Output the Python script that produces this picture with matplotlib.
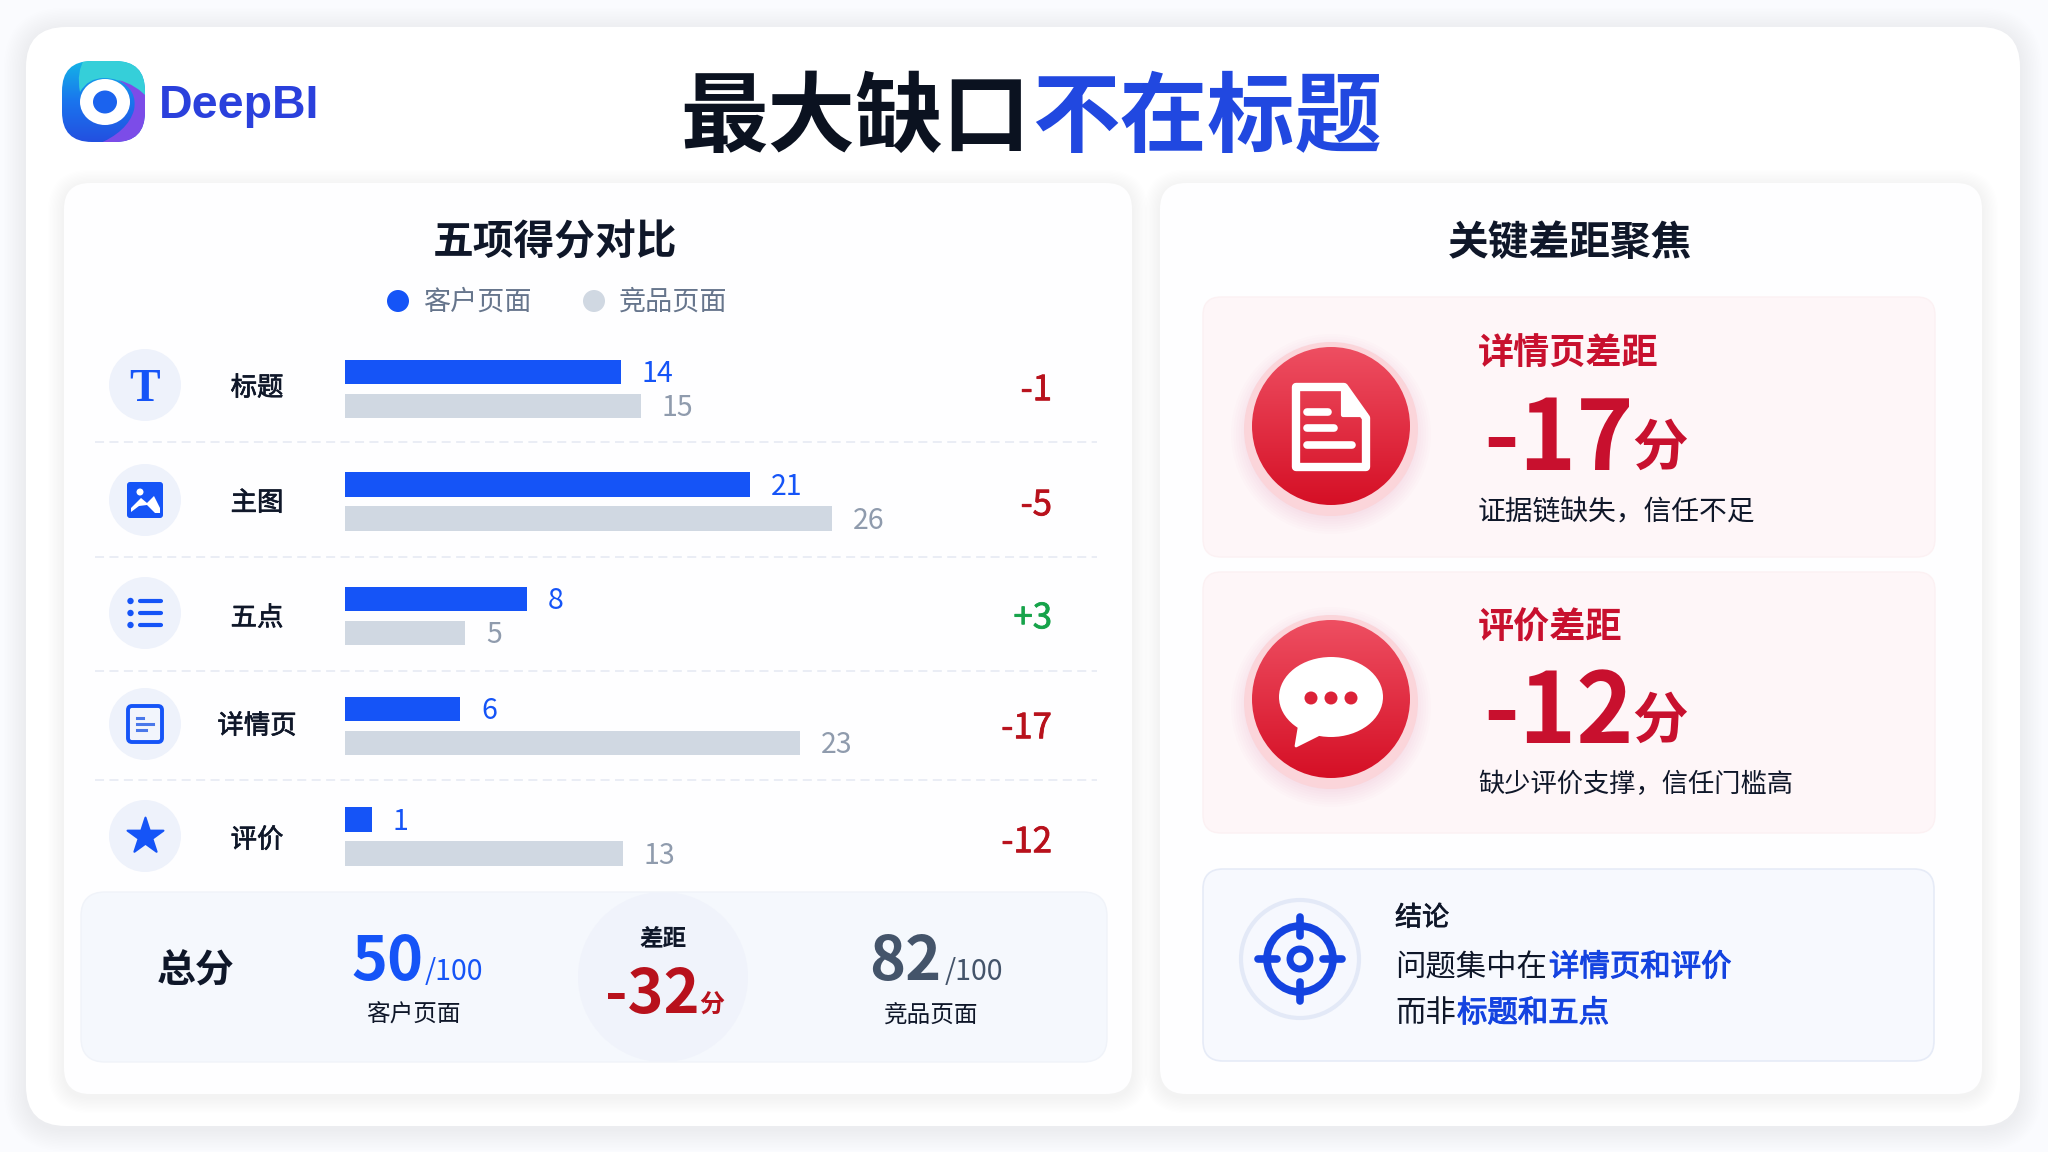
import numpy as np
import matplotlib
matplotlib.use('Agg')
import matplotlib.pyplot as plt
import matplotlib.patheffects as pe
from matplotlib.patches import FancyBboxPatch, Circle, Polygon, Ellipse, PathPatch
from matplotlib.path import Path
from matplotlib.colors import LinearSegmentedColormap

plt.rcParams['font.family'] = ['Noto Sans CJK SC', 'DejaVu Sans']

# data
categories = ['标题', '主图', '五点', '详情页', '评价']
client_scores = [14, 21, 8, 6, 1]
rival_scores = [15, 26, 5, 23, 13]
# bar lengths as drawn in the picture, in score units
client_bars = [14.0, 20.55, 9.25, 5.85, 1.35]
rival_bars = [15.0, 24.7, 6.1, 23.1, 14.1]
gap_labels = ['-1', '-5', '+3', '-17', '-12']
series_names = ['客户页面', '竞品页面']
client_total = '50'
rival_total = '82'
total_gap = '-32'

BLUE = '#1554f7'
GREY = '#d0d8e2'
INK = '#0f1729'
RED = '#b8111c'
GREEN = '#16a34a'
CARD_RED = '#c8102e'

fig = plt.figure(figsize=(20.48, 11.52), dpi=100, facecolor='#fafbfe')
ax = fig.add_axes([0, 0, 1, 1])
ax.set_xlim(0, 2048)
ax.set_ylim(1152, 0)
ax.axis('off')


def rbox(x0, y0, x1, y1, r, fc, ec='none', lw=0, z=1, alpha=None):
    p = FancyBboxPatch((x0, y0), x1 - x0, y1 - y0, boxstyle=f'round,pad=0,rounding_size={r}',
                       fc=fc, ec=ec, lw=lw, zorder=z, alpha=alpha)
    ax.add_patch(p)
    return p


def shadow(x0, y0, x1, y1, r, color='#c9d4ec', steps=12, spread=16, dy=3, a=0.012, z=1):
    for i in range(steps):
        d = spread * (1 - i / steps)
        rbox(x0 - d, y0 - d + dy, x1 + d, y1 + d + dy, r + d, color, z=z, alpha=a)


def gradient(x0, y0, x1, y1, colors, clip, z=3):
    cmap = LinearSegmentedColormap.from_list('g', colors)
    g = np.linspace(0, 1, 200)[:, None]
    im = ax.imshow(g, extent=(x0, x1, y1, y0), cmap=cmap, aspect='auto', zorder=z, origin='upper')
    im.set_clip_path(clip)
    return im


def txt(x, y, s, size, color=INK, weight='regular', ha='center', va='center', z=6, thick=0, **kw):
    # CJK glyphs sit high with va=center
    if va == 'center':
        y = y + size * 0.11
    t = ax.text(x, y, s, fontsize=size, color=color, fontweight=weight, ha=ha, va=va, zorder=z, **kw)
    if thick:
        t.set_path_effects([pe.withStroke(linewidth=thick, foreground=color)])
    return t


# cards
shadow(26, 27, 2020, 1126, 40, steps=14, spread=22)
rbox(26, 27, 2020, 1126, 40, '#ffffff', z=1.2)
for x0, x1 in [(64, 1132), (1160, 1982)]:
    shadow(x0, 183, x1, 1094, 26, z=1.3)
    rbox(x0, 183, x1, 1094, 26, '#fefeff', z=1.4)

# logo
logo = rbox(62, 61, 145, 142, 30, 'none', z=2)
gradient(62, 61, 145, 142, ['#14b4e6', '#1a74ee', '#2350e0'], logo)
Q = Path.CURVE3
teal = PathPatch(Path([(85, 58), (150, 58), (150, 112), (132, 78), (104, 78), (88, 78), (80, 92), (76, 72), (85, 58)],
                      [Path.MOVETO, Path.LINETO, Path.LINETO, Q, Q, Q, Q, Q, Q]), fc='#35cfd9', ec='none', zorder=3.2)
ax.add_patch(teal)
teal.set_clip_path(logo)
violet = PathPatch(Path([(118, 80), (138, 90), (134, 110), (128, 132), (96, 145), (150, 145), (150, 100), (136, 84), (118, 80)],
                        [Path.MOVETO, Q, Q, Q, Q, Path.LINETO, Path.LINETO, Q, Q]), fc='#7c4ce8', ec='none', zorder=3.2)
ax.add_patch(violet)
violet.set_clip_path(logo)
ax.add_patch(Ellipse((105, 102), 50, 46, fc='white', zorder=4))
ax.add_patch(Ellipse((105, 102), 24, 23, fc='#1b63ee', zorder=5))
txt(159, 102, 'DeepBI', 33.5, '#2a40dc', 'bold', ha='left', family='Liberation Sans')

# title
txt(680, 113, '最大缺口', 63, '#0b1220', 'black', ha='left')
txt(1032, 113, '不在标题', 63, '#2148e0', 'black', ha='left')

# panel heads
txt(555, 240, '五项得分对比', 29.3, INK, 'bold')
txt(1570, 240, '关键差距聚焦', 29.3, INK, 'bold')
ax.add_patch(Circle((398, 301), 11, fc=BLUE, zorder=5))
ax.add_patch(Circle((594, 301), 11, fc=GREY, zorder=5))
txt(423, 300, series_names[0], 19.5, '#66758c', ha='left')
txt(619, 300, series_names[1], 19.5, '#66758c', ha='left')

# rows
row_y = [389, 501.5, 616, 726, 836.5]
icon_y = [385, 500, 613, 724, 836]
label_y = [386, 501, 616, 724, 838]
gap_y = [388, 503, 616, 726, 840]
for y in [442, 557, 671, 780]:
    ax.plot([95, 1097], [y, y], color='#e8ecf4', lw=1.3, ls=(0, (5, 3)), zorder=3)
for y in icon_y:
    ax.add_patch(Circle((145, y), 36, fc='#eef2fb', zorder=3))
for ly, name in zip(label_y, categories):
    txt(257, ly, name, 19, INK, thick=0.5)
for y, s in zip(gap_y, gap_labels):
    txt(1052, y, s, 25, GREEN if s.startswith('+') else RED, ha='right', thick=0.6)

# icons
txt(145, icon_y[0] + 1, 'T', 33, BLUE, 'bold', family='Liberation Serif')
yi = icon_y[1]
rbox(127, yi - 18, 163, yi + 18, 3, BLUE, z=5)
ax.add_patch(Circle((140, yi - 8), 3.5, fc='white', zorder=6))
ax.add_patch(Polygon([(131, yi + 8), (141, yi - 2), (147, yi + 3), (154, yi - 4), (160, yi + 8), (160, yi + 13), (155, yi + 13), (147, yi + 5), (139, yi + 6), (131, yi + 12)],
                     fc='white', zorder=6))
yi = icon_y[2]
for dy in [-12, 0, 12]:
    ax.add_patch(Circle((130.5, yi + dy), 3.2, fc=BLUE, zorder=5))
    ax.plot([140, 161], [yi + dy, yi + dy], color=BLUE, lw=3, solid_capstyle='round', zorder=5)
yi = icon_y[3]
rbox(128, yi - 18, 162, yi + 18, 4, '#f2f5fc', ec=BLUE, lw=2.8, z=5)
for dy, x1 in [(-6, 143), (0, 153), (6, 146)]:
    ax.plot([137, x1], [yi + dy, yi + dy], color='#4a78ea', lw=2.2, zorder=6)
ax.scatter([145], [icon_y[4]], marker='*', s=740, color=BLUE, linewidths=1.5, edgecolors=BLUE, zorder=5)

# bars
bar_ax = fig.add_axes([345 / 2048, 1 - 880 / 1152, 755 / 2048, 540 / 1152])
bar_ax.set_xlim(0, 755 / 19.7)
bar_ax.set_ylim(880, 340)
bar_ax.axis('off')
bar_ax.patch.set_alpha(0)
bar_ax.set_zorder(5)
client_y = np.array(row_y) - 17
rival_y = np.array(row_y) + 17
bar_ax.barh(client_y, client_bars, height=24.5, color=BLUE)
bar_ax.barh(rival_y, rival_bars, height=24.5, color=GREY)
for b, v, y in zip(client_bars, client_scores, client_y):
    bar_ax.annotate(str(v), (b, y), xytext=(15, -1.5), textcoords='offset points', fontsize=20.5, color=BLUE, va='center')
for b, v, y in zip(rival_bars, rival_scores, rival_y):
    bar_ax.annotate(str(v), (b, y), xytext=(15, -1.5), textcoords='offset points', fontsize=20.5, color='#8f9bad', va='center')

# total strip
rbox(81, 892, 1107, 1062, 24, '#f5f8fd', ec='#f0f3f9', lw=1, z=2)
ax.add_patch(Circle((663, 977), 85, fc='#f0f3fb', zorder=2.5))
txt(196, 968, '总分', 28, INK, 'bold')
txt(351, 980, client_total, 44, BLUE, 'bold', ha='left', va='baseline')
txt(425, 980, '/100', 20.5, BLUE, ha='left', va='baseline')
txt(413, 1013, series_names[0], 17, INK)
txt(869, 980, rival_total, 44, '#44546a', 'bold', ha='left', va='baseline')
txt(945, 980, '/100', 20.5, '#44546a', ha='left', va='baseline')
txt(931, 1013, series_names[1], 17, INK)
txt(663, 937, '差距', 17, INK, 'bold')
txt(605, 1013, total_gap, 44, RED, 'bold', ha='left', va='baseline')
txt(699, 1013, '分', 18, RED, 'bold', ha='left', va='baseline')

# right red cards
cards = [
    (297, 557, 426, '详情页差距', 351, '-17', 470, '证据链缺失\uff0c信任不足', 510, 20),
    (572, 833, 699, '评价差距', 625, '-12', 743, '缺少评价支撑\uff0c信任门槛高', 782, 18.9),
]
for y0, y1, cy, head, head_y, big, base_y, sub, sub_y, sub_size in cards:
    rbox(1203, y0, 1935, y1, 18, '#fef6f8', ec='#fcf1f3', lw=1, z=2)
    for i in range(8):
        ax.add_patch(Circle((1331, cy + 8), 100 - i * 2.5, fc='#e8394e', alpha=0.012, zorder=2.5))
    ax.add_patch(Circle((1331, cy + 3), 87, fc='#fbd5da', ec='none', zorder=2.8))
    disc = Circle((1331, cy), 79, fc='none', ec='none', zorder=3)
    ax.add_patch(disc)
    gradient(1250, cy - 80, 1412, cy + 80, ['#ee4f62', '#d50f25'], disc)
    txt(1478, head_y, head, 26, CARD_RED, 'bold', ha='left')
    txt(1483, base_y, big, 70, CARD_RED, 'bold', ha='left', va='baseline')
    txt(1632, base_y - 5, '分', 40, CARD_RED, 'bold', ha='left', va='baseline')
    txt(1478, sub_y, sub, sub_size, INK, ha='left')

# doc icon
ax.add_patch(PathPatch(Path([(1296, 387), (1344, 387), (1366, 418), (1366, 467), (1296, 467), (1296, 387)],
                            [Path.MOVETO, Path.LINETO, Path.LINETO, Path.LINETO, Path.LINETO, Path.CLOSEPOLY]),
                       fc='none', ec='white', lw=6, joinstyle='round', zorder=5))
ax.add_patch(Polygon([(1343, 387), (1343, 415), (1366, 415)], fc='white', ec='white', lw=3, joinstyle='round', zorder=5))
for y, x1 in [(412, 1328), (428, 1334), (445, 1352)]:
    ax.plot([1307, x1], [y, y], color='white', lw=5.5, solid_capstyle='round', zorder=5)

# speech icon
ax.add_patch(Ellipse((1331, 697), 104, 80, fc='white', zorder=5))
ax.add_patch(Polygon([(1300, 722), (1318, 735), (1296, 746)], fc='white', ec='white', lw=2, joinstyle='round', zorder=5))
for x in [1311, 1331, 1351]:
    ax.add_patch(Circle((x, 698), 6.5, fc='#dc2238', zorder=6))

# conclusion
rbox(1203, 869, 1934, 1061, 20, '#f7f9fe', ec='#e6ebf7', lw=1.2, z=2)
ax.add_patch(Circle((1300, 959), 59, fc='#f6f8fe', ec='#e3e9f7', lw=3, zorder=3))
TARGET = '#1443e0'
ax.add_patch(Circle((1300, 959), 33, fc='none', ec=TARGET, lw=5.5, zorder=4))
ax.add_patch(Circle((1300, 959), 10, fc='none', ec=TARGET, lw=5, zorder=4))
for x0, y0, x1, y1 in [(1300, 917, 1300, 936), (1300, 982, 1300, 1001), (1258, 959, 1277, 959), (1323, 959, 1342, 959)]:
    ax.plot([x0, x1], [y0, y1], color=TARGET, lw=5.5, solid_capstyle='round', zorder=4)
txt(1395, 916, '结论', 19.5, INK, ha='left', thick=0.5)
txt(1395, 965, '问题集中在', 21.9, INK, ha='left')
txt(1549, 965, '详情页和评价', 21.9, TARGET, ha='left', thick=0.8)
txt(1395, 1011, '而非', 21.9, INK, ha='left')
txt(1457, 1011, '标题和五点', 21.9, TARGET, ha='left', thick=0.8)

ax.set_xlim(0, 2048)
ax.set_ylim(1152, 0)
fig.savefig('out.png', dpi=100, facecolor=fig.get_facecolor())
